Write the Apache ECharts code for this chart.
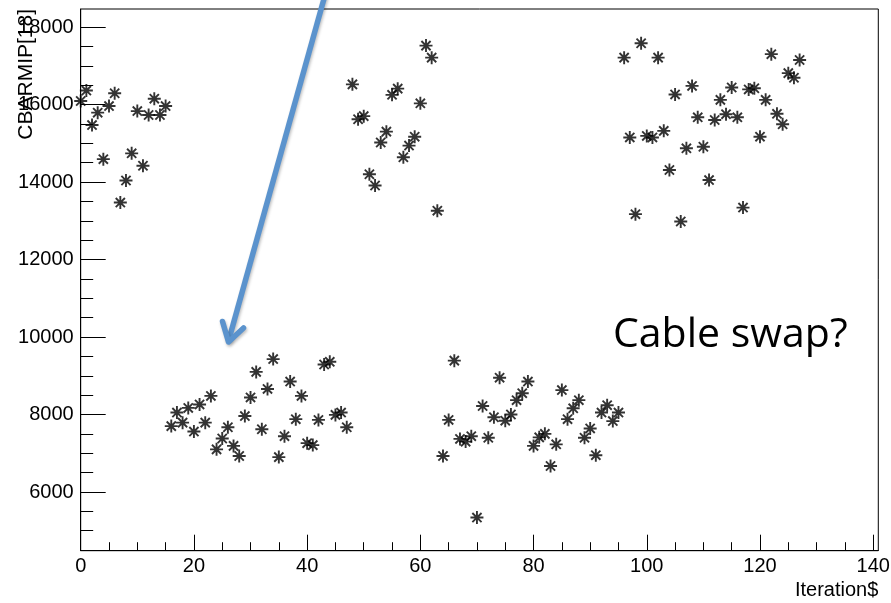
<!DOCTYPE html>
<html>
<head>
<meta charset="utf-8">
<script src="https://cdn.jsdelivr.net/npm/echarts@6/dist/echarts.min.js"></script>
<style>
html,body{margin:0;padding:0;background:#fff;}
#chart{width:891px;height:603px;}
</style>
</head>
<body>
<div id="chart"></div>
<script>
// CBARMIP[18] value for each Iteration$ (entry index 0..127)
const cbarmip = [
  16090, 16360, 15470, 15790, 14590, 15960, 16290, 13470, 14040, 14740, 15830, 14420, 15730, 16150, 15730, 15960,
  7700, 8050, 7790, 8170, 7560, 8260, 7790, 8480, 7100, 7380, 7670, 7190, 6930, 7960, 8440, 9100,
  7620, 8660, 9430, 6900, 7440, 8850, 7880, 8480, 7260, 7210, 7860, 9290, 9360, 7990, 8050, 7670,
  16520, 15620, 15700, 14200, 13910, 15020, 15300, 16250, 16410, 14640, 14940, 15170, 16030, 17520, 17210, 13260,
  6930, 7860, 9390, 7370, 7300, 7440, 5340, 8220, 7400, 7930, 8950, 7840, 8000, 8370, 8550, 8850,
  7190, 7410, 7500, 6670, 7230, 8630, 7880, 8160, 8370, 7400, 7640, 6950, 8050, 8240, 7830, 8050,
  17210, 15150, 13170, 17580, 15190, 15150, 17210, 15320, 14310, 16260, 12980, 14870, 16480, 15670, 14910, 14050,
  15600, 16120, 15750, 16440, 15670, 13340, 16390, 16420, 15170, 16120, 17300, 15760, 15490, 16810, 16690, 17150
];
const xMajorTicks = [0, 20, 40, 60, 80, 100, 120, 140];
const xMinorTicks = [5, 10, 15, 25, 30, 35, 45, 50, 55, 65, 70, 75, 85, 90, 95, 105, 110, 115, 125, 130, 135];
const yMajorTicks = [6000, 8000, 10000, 12000, 14000, 16000, 18000];
const yMinorTicks = [4500, 5000, 5500, 6500, 7000, 7500, 8500, 9000, 9500, 10500, 11000, 11500,
  12500, 13000, 13500, 14500, 15000, 15500, 16500, 17000, 17500];
const xRange = [0, 140.9];
const yRange = [4485, 18465];
const xTitle = 'Iteration$';
const yTitle = 'CBARMIP[18]';
const note = 'Cable swap?';

const FONT = "'Liberation Sans', Arial, Helvetica, sans-serif";
const chart = echarts.init(document.getElementById('chart'), null, {renderer: 'canvas'});

const starPath = 'path://M0,6L12,6M6,0L6,12M1.76,1.76L10.24,10.24M10.24,1.76L1.76,10.24';

const option = {
  backgroundColor: '#fff',
  animation: false,
  grid: {left: 80.7, right: 12.7, top: 9, bottom: 52.3, show: true, borderColor: '#000', borderWidth: 1,
         containLabel: false, outerBoundsMode: 'none'},
  xAxis: [{
    type: 'value', min: xRange[0], max: xRange[1], position: 'bottom',
    axisLine: {show: true, lineStyle: {color: '#000', width: 1}},
    axisTick: {show: true, inside: true, length: 16, customValues: xMajorTicks, lineStyle: {color: '#000', width: 1}},
    axisLabel: {show: true, customValues: xMajorTicks, formatter: v => String(v), color: '#000',
                fontFamily: FONT, fontSize: 20, margin: 6},
    splitLine: {show: false},
    name: xTitle, nameLocation: 'end', nameGap: 0,
    nameTextStyle: {fontFamily: FONT, fontSize: 20, color: '#000', align: 'right', verticalAlign: 'top', padding: [30, 0, 0, 0]}
  }, {
    type: 'value', min: xRange[0], max: xRange[1], position: 'bottom',
    axisLine: {show: false},
    axisTick: {show: true, inside: true, length: 8.5, customValues: xMinorTicks, lineStyle: {color: '#000', width: 1}},
    axisLabel: {show: false},
    splitLine: {show: false}
  }],
  yAxis: [{
    type: 'value', min: yRange[0], max: yRange[1], position: 'left',
    axisLine: {show: true, lineStyle: {color: '#000', width: 1}},
    axisTick: {show: true, inside: true, length: 25, customValues: yMajorTicks, lineStyle: {color: '#000', width: 1}},
    axisLabel: {show: true, customValues: yMajorTicks, formatter: v => String(v), color: '#000',
                fontFamily: FONT, fontSize: 20, margin: 7},
    splitLine: {show: false}
  }, {
    type: 'value', min: yRange[0], max: yRange[1], position: 'left',
    axisLine: {show: false},
    axisTick: {show: true, inside: true, length: 12.5, customValues: yMinorTicks, lineStyle: {color: '#000', width: 1}},
    axisLabel: {show: false},
    splitLine: {show: false}
  }],
  series: [{
    type: 'scatter',
    name: yTitle,
    xAxisIndex: 0, yAxisIndex: 0,
    data: cbarmip.map((v, i) => [i, v]),
    symbol: starPath,
    symbolSize: 13,
    itemStyle: {color: 'rgba(0,0,0,0)', borderColor: '#000', borderWidth: 1.9},
    emphasis: {disabled: true}
  }],
  graphic: [
    {
      type: 'text', silent: true, z: 50,
      x: 37, y: 9, rotation: Math.PI / 2,
      style: {text: yTitle, fontFamily: FONT, fontSize: 21, fill: '#000',
              textAlign: 'right', textVerticalAlign: 'bottom'}
    },
    {
      type: 'line', silent: true, z: 100,
      shape: {x1: 327, y1: -12, x2: 228.5, y2: 341},
      style: {stroke: '#5B93CD', lineWidth: 5.5, lineCap: 'butt',
              shadowColor: 'rgba(0,0,0,0.25)', shadowBlur: 3, shadowOffsetX: 1, shadowOffsetY: 2}
    },
    {
      type: 'polyline', silent: true, z: 100,
      shape: {points: [[222.5, 321.5], [228.5, 342], [243.5, 328]]},
      style: {stroke: '#5B93CD', lineWidth: 5.5, lineCap: 'round', lineJoin: 'round', fill: null,
              shadowColor: 'rgba(0,0,0,0.25)', shadowBlur: 3, shadowOffsetX: 1, shadowOffsetY: 2}
    },
    {
      type: 'text', silent: true, z: 100,
      x: 613, y: 335,
      style: {text: note, fontFamily: "'Open Sans', 'Noto Sans', sans-serif", fontSize: 41, fill: '#000',
              textAlign: 'left', textVerticalAlign: 'middle'}
    }
  ]
};
chart.setOption(option);
</script>
</body>
</html>
